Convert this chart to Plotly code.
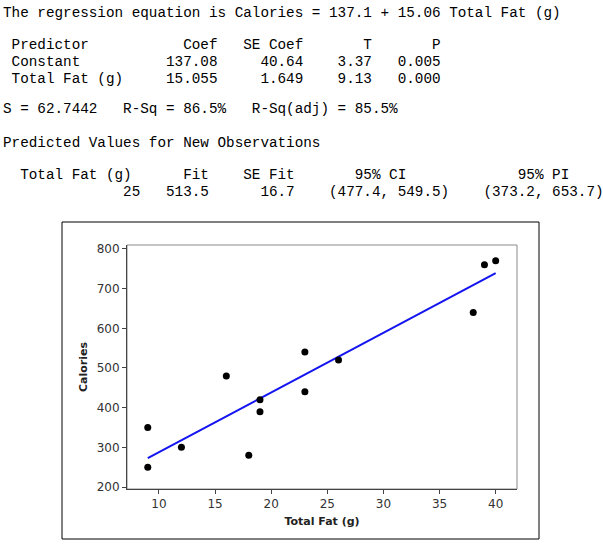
import plotly.graph_objects as go

# data
total_fat = [9, 9, 12, 16, 18, 19, 19, 23, 23, 26, 38, 39, 40]
calories = [350, 250, 300, 480, 280, 420, 390, 540, 440, 520, 640, 760, 770]

# regression output
predictors = ["Constant", "Total Fat (g)"]
coef = ["137.08", "15.055"]
se_coef = ["40.64", "1.649"]
t_vals = ["3.37", "9.13"]
p_vals = ["0.005", "0.000"]
intercept = 137.08
slope = 15.055
eq_const = "137.1"
eq_slope = "15.06"
s_val = "62.7442"
r_sq = "86.5%"
r_sq_adj = "85.5%"

# prediction for a new observation
new_fat = "25"
fit = "513.5"
se_fit = "16.7"
ci_95 = "(477.4, 549.5)"
pi_95 = "(373.2, 653.7)"

x_ticks = [10, 15, 20, 25, 30, 35, 40]
y_ticks = [200, 300, 400, 500, 600, 700, 800]

# plot area in pixels (603x547 page)
L, T, W, H = 127, 245, 390, 244


def paper_x(px):
    return (px - L) / W


def paper_y(py):
    return (T + H - py) / H


# build the text lines (monospace columns, Minitab style)
lines = [
    (12, "The regression equation is Calories = " + eq_const + " + " + eq_slope + " Total Fat (g)"),
    (44, " " + "Predictor".ljust(13) + "Coef".rjust(11) + "SE Coef".rjust(10) + "T".rjust(8) + "P".rjust(8)),
]
for i, name in enumerate(predictors):
    row = " " + name.ljust(13) + coef[i].rjust(11) + se_coef[i].rjust(10) + t_vals[i].rjust(8) + p_vals[i].rjust(8)
    lines.append((61 + 16.5 * i, row))
lines.append((108, "S = " + s_val + "   R-Sq = " + r_sq + "   R-Sq(adj) = " + r_sq_adj))
lines.append((142, "Predicted Values for New Observations"))
lines.append((174, "  Total Fat (g)" + "Fit".rjust(9) + "SE Fit".rjust(10) + "95% CI".rjust(13) + "95% PI".rjust(19)))
lines.append((191, new_fat.rjust(16) + fit.rjust(8) + se_fit.rjust(10) + ci_95.rjust(18) + pi_95.rjust(18)))

fig = go.Figure()

# fitted line
x_line = [min(total_fat), max(total_fat)]
y_line = [intercept + slope * x for x in x_line]
fig.add_trace(go.Scatter(
    x=x_line, y=y_line, mode='lines',
    line=dict(color='rgb(20,20,240)', width=2),
    hoverinfo='skip'
))

fig.add_trace(go.Scatter(
    x=total_fat, y=calories, mode='markers',
    marker=dict(symbol='circle', size=7, color='black'),
    cliponaxis=False
))

annotations = []
for y, txt in lines:
    annotations.append(dict(
        text=txt.replace(" ", "\u00a0"),
        x=paper_x(1), y=paper_y(y + 1), xref='paper', yref='paper',
        xanchor='left', yanchor='middle', showarrow=False,
        font=dict(family='Liberation Mono', size=14.3, color='black')
    ))

shapes = [
    # outer graph border
    dict(type='rect', xref='paper', yref='paper',
         x0=paper_x(62), x1=paper_x(539), y0=paper_y(539), y1=paper_y(222),
         line=dict(color='black', width=1), layer='below'),
    # plot frame
    dict(type='rect', xref='paper', yref='paper', x0=0, x1=1, y0=0, y1=1,
         line=dict(color='#8a8a8a', width=1), layer='below'),
]

fig.update_layout(
    width=603, height=547, autosize=False,
    margin=dict(l=L, r=603 - L - W, t=T, b=547 - T - H, pad=0),
    paper_bgcolor='white', plot_bgcolor='white',
    showlegend=False,
    annotations=annotations,
    shapes=shapes,
    xaxis=dict(
        range=[7.15, 41.9], tickvals=x_ticks, showgrid=False, zeroline=False,
        showline=True, linecolor='#444', linewidth=1,
        ticks='outside', ticklen=4, tickcolor='#444',
        tickfont=dict(family='DejaVu Sans', size=12, color='#333'),
        title=dict(text='<b>Total Fat (g)</b>', standoff=6,
                   font=dict(family='DejaVu Sans', size=11, color='#222'))
    ),
    yaxis=dict(
        range=[195, 810], tickvals=y_ticks, showgrid=False, zeroline=False,
        showline=True, linecolor='#444', linewidth=1,
        ticks='outside', ticklen=4, tickcolor='#444',
        tickfont=dict(family='DejaVu Sans', size=12, color='#333'),
        title=dict(text='<b>Calories</b>', standoff=6,
                   font=dict(family='DejaVu Sans', size=11, color='#222'))
    ),
)

# page body has an 8px default margin; drop it so the figure sits at the corner
fig.write_html("out.html", config={'displayModeBar': False},
               post_script="document.body.style.margin='0';")
